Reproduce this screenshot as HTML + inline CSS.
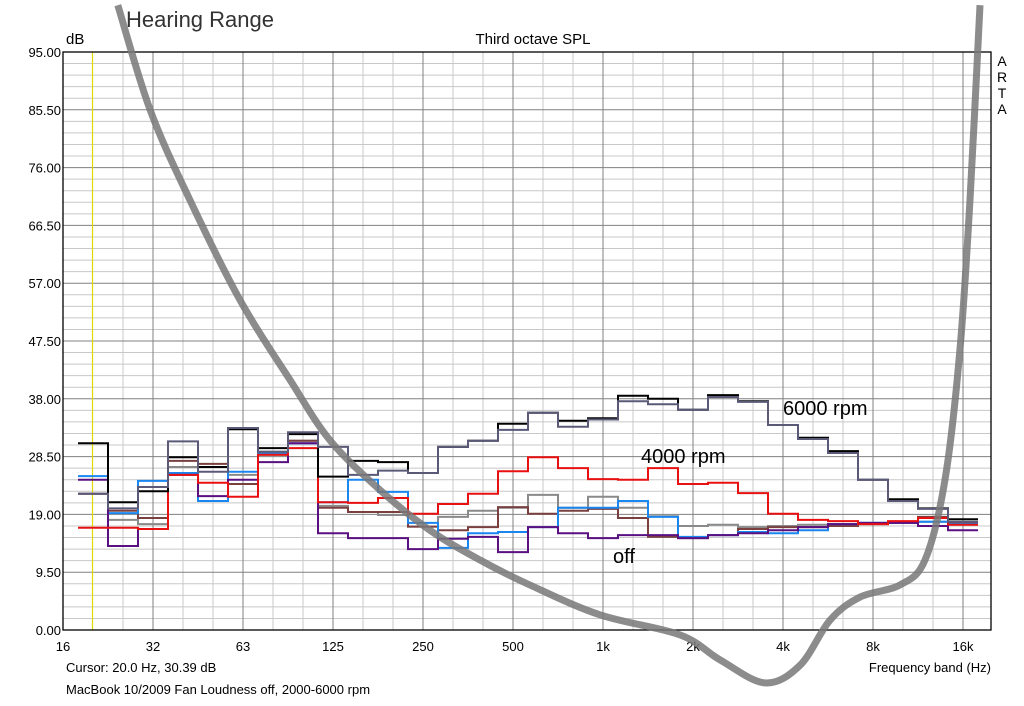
<!DOCTYPE html>
<html><head><meta charset="utf-8"><style>
body{margin:0;background:#fff;width:1024px;height:701px;overflow:hidden;font-family:"Liberation Sans",sans-serif}
svg text{font-family:"Liberation Sans",sans-serif}
</style></head><body>
<svg id="chart" width="1024" height="701" xmlns="http://www.w3.org/2000/svg">
<text x="126" y="27" font-size="22" fill="#333">Hearing Range</text>
<text x="66" y="44" font-size="15">dB</text>
<text x="533" y="44" font-size="15" text-anchor="middle">Third octave SPL</text>
<text x="1002" y="66" font-size="14" text-anchor="middle"><tspan x="1002">A</tspan><tspan x="1002" dy="16">R</tspan><tspan x="1002" dy="16">T</tspan><tspan x="1002" dy="16">A</tspan></text>
<text x="66" y="672" font-size="13">Cursor:   20.0 Hz, 30.39 dB</text>
<text x="66" y="694" font-size="13">MacBook 10/2009 Fan Loudness off, 2000-6000 rpm</text>
<text x="991" y="672" font-size="13" text-anchor="end">Frequency band (Hz)</text>
<g id="grid"></g><g id="series"></g><g id="hear"></g>
<text x="783" y="415" font-size="20">6000 rpm</text>
<text x="641" y="463" font-size="20">4000 rpm</text>
<text x="613" y="563" font-size="20">off</text>
</svg>
<script>
const yTicks=[0,9.5,19,28.5,38,47.5,57,66.5,76,85.5,95];
const xTickLabels=["16","32","63","125","250","500","1k","2k","4k","8k","16k"];
const seriesBlack=[30.7,21.0,22.8,28.4,26.8,33.0,29.9,32.2,25.2,27.8,27.6,25.8,30.1,31.1,33.9,35.7,34.4,34.8,38.5,38.0,36.2,38.6,37.6,33.7,31.6,29.4,24.7,21.5,20.0,18.2];
const seriesSlate=[22.4,20.0,23.5,31.0,26.0,33.2,29.3,32.5,30.1,25.5,26.2,25.8,30.1,31.1,32.9,35.7,33.4,34.6,37.6,37.1,36.2,38.3,37.5,33.7,31.4,29.1,24.7,21.2,19.9,17.8];
const seriesRed=[16.8,16.8,16.6,25.5,24.2,21.9,28.8,29.9,21.0,20.9,21.7,19.1,20.7,22.4,26.1,28.4,26.6,24.8,24.7,26.6,24.0,24.2,22.5,19.1,18.1,17.9,17.4,17.9,18.4,17.3];
const seriesBrown=[22.4,19.6,18.4,27.8,27.3,24.0,28.8,31.1,20.1,19.4,19.4,17.0,16.4,16.9,20.2,19.1,19.6,19.9,18.4,15.3,15.1,15.6,16.6,16.9,16.9,17.1,17.4,17.6,18.6,17.6];
const seriesGray=[22.4,18.1,17.4,26.8,26.8,25.5,29.3,31.1,20.4,19.4,18.9,17.0,18.6,19.6,20.1,22.2,20.1,21.9,20.1,18.7,17.1,17.3,16.9,17.1,17.3,17.4,17.6,17.6,17.8,17.4];
const seriesBlue=[25.3,19.2,24.5,25.8,21.2,26.0,29.1,30.7,21.0,24.7,22.7,17.6,13.5,15.9,16.1,16.9,20.1,20.1,21.2,18.6,15.3,15.6,16.1,15.9,16.4,17.4,17.6,17.6,17.8,17.4];
const seriesPurple=[24.7,13.8,16.6,25.5,22.0,24.7,27.6,30.7,15.9,15.1,15.1,13.3,15.0,15.3,12.8,16.9,15.9,15.1,15.6,15.6,15.1,15.6,15.9,16.4,16.9,17.4,17.6,17.6,17.1,16.4];
const hearFreq=[24.4,31.3,42.5,62.6,91.9,125,184,270,397,583,1000,1853,2520,3565,4670,5880,7410,10080,12230,14260,16000,17290,18670];
const hearDb=[102.7,85.5,70.7,54.2,41.1,31.2,23.0,16.4,11.5,7.4,2.5,-0.8,-4.9,-8.7,-5.8,1.6,5.4,7.4,11.5,24.7,46,70.7,102.7];
const L=63,R=991,T=52,B=630;
const NS='http://www.w3.org/2000/svg';
const xOct=o=>L+90*o;
const xF=f=>L+90*Math.log2(f/16);
const yV=v=>B-(v/95)*(B-T);
function mk(t,a,p){const e=document.createElementNS(NS,t);for(const k in a)e.setAttribute(k,a[k]);p.appendChild(e);return e;}
const grid=document.getElementById('grid');
for(let i=0;i<50;i++){const v=i*1.9;if(i%5===0)continue;
const ln=mk('line',{x1:L,x2:R,y1:yV(v),y2:yV(v),stroke:'#c8c8c8','stroke-width':1},grid);

}
for(let i=1;i<=32;i++){const x=L+i*30;if(x>=R||i===1)continue;
const ln=mk('line',{x1:x,x2:x,y1:T,y2:B,stroke:i%3===0?'#808080':'#c8c8c8','stroke-width':1},grid);

}
yTicks.forEach(v=>{
const ln=mk('line',{x1:L,x2:R,y1:yV(v),y2:yV(v),stroke:'#808080','stroke-width':1},grid);


const t=mk('text',{x:L-2,y:yV(v)+5,'font-size':13,'text-anchor':'end'},grid);t.textContent=v.toFixed(2);

});
xTickLabels.forEach((s,i)=>{const t=mk('text',{x:xOct(i),y:651,'font-size':13,'text-anchor':'middle'},grid);t.textContent=s;

});
const cur=mk('line',{x1:Math.round(xF(20))+0.5,x2:Math.round(xF(20))+0.5,y1:T,y2:B,stroke:'#e0d800','stroke-width':1.2},grid);


const fr=mk('rect',{x:L,y:T,width:R-L,height:B-T,fill:'none',stroke:'#000','stroke-width':1.3},grid);


const sg=document.getElementById('series');
function step(arr,color,name){let d='';arr.forEach((v,i)=>{const x0=xOct(1/3+i/3)-15,x1=x0+30;d+=(i?'L':'M')+x0+','+yV(v)+'L'+x1+','+yV(v);});
const p=mk('path',{d:d,fill:'none',stroke:color,'stroke-width':2},sg);

}
step(seriesGray,'#8a8a8a','series-gray');
step(seriesBrown,'#7a4040','series-brown');
step(seriesBlue,'#1a86f0','series-blue');
step(seriesPurple,'#5a1080','series-purple');
step(seriesRed,'#e81010','series-red');
step(seriesBlack,'#000','series-black');
step(seriesSlate,'#5a5a78','series-slate');
const hp_pts=hearFreq.map((f,i)=>[xF(f),yV(hearDb[i])]);
let hd='M'+hp_pts[0][0].toFixed(1)+','+hp_pts[0][1].toFixed(1);
for(let i=0;i<hp_pts.length-1;i++){const p0=hp_pts[Math.max(0,i-1)],p1=hp_pts[i],p2=hp_pts[i+1],p3=hp_pts[Math.min(hp_pts.length-1,i+2)];
const c1=[p1[0]+(p2[0]-p0[0])/6,p1[1]+(p2[1]-p0[1])/6],c2=[p2[0]-(p3[0]-p1[0])/6,p2[1]-(p3[1]-p1[1])/6];
hd+='C'+c1[0].toFixed(1)+','+c1[1].toFixed(1)+' '+c2[0].toFixed(1)+','+c2[1].toFixed(1)+' '+p2[0].toFixed(1)+','+p2[1].toFixed(1);}
const hp=mk('path',{d:hd,fill:'none',stroke:'#787878','stroke-width':7,'stroke-opacity':0.85,'stroke-linejoin':'round'},document.getElementById('hear'));


</script>
</body></html>
